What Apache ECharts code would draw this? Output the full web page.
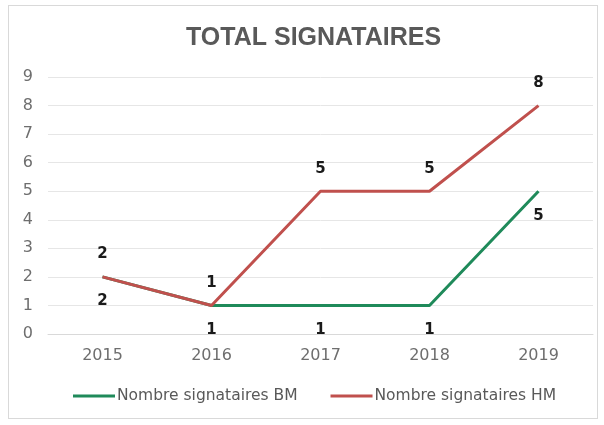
<!DOCTYPE html>
<html><head><meta charset="utf-8">
<script src="https://cdn.jsdelivr.net/npm/echarts@6/dist/echarts.min.js"></script>
<style>
html,body{margin:0;padding:0;background:#fff;}
#frame{position:absolute;left:8px;top:5px;width:590px;height:414px;border:1px solid #d9d9d9;box-sizing:border-box;}
#c{position:absolute;left:0;top:0;width:604px;height:425px;}
</style></head>
<body><div id="frame"></div><div id="c"></div>
<script>
const titleText = 'TOTAL SIGNATAIRES';
const categories = ['2015','2016','2017','2018','2019'];
const bmName = 'Nombre signataires BM';
const hmName = 'Nombre signataires HM';
const bmValues = [2,1,1,1,5];
const hmValues = [2,1,5,5,8];
const yTicks = [0,1,2,3,4,5,6,7,8,9];

const titleFont = '"Liberation Sans", Arial, sans-serif';
const font = '"DejaVu Sans", sans-serif';
const chart = echarts.init(document.getElementById('c'));
const labelBase = {show:true, color:'#1a1a1a', fontWeight:'bold', fontSize:15, fontFamily:font};
chart.setOption({
  animation:false,
  title:{text:titleText,left:181,top:21,textStyle:{fontFamily:titleFont,fontWeight:'bold',fontSize:25,color:'#595959'}},
  grid:{left:48,right:11,top:77,bottom:91},
  legend:{top:383,left:68,itemWidth:42,itemHeight:3,itemGap:33,
    icon:'rect',
    textStyle:{fontFamily:font,fontSize:15.5,color:'#595959',padding:[0,0,0,-3]},
    data:[bmName,hmName]},
  xAxis:{type:'category',data:categories,boundaryGap:true,
    axisLine:{lineStyle:{color:'#d9d9d9'}},axisTick:{show:false},
    axisLabel:{fontFamily:font,fontSize:16,color:'#6e6e6e',margin:14}},
  yAxis:{type:'value',min:yTicks[0],max:yTicks[yTicks.length-1],interval:1,
    axisLine:{show:false},axisTick:{show:false},
    splitLine:{lineStyle:{color:'#e6e6e6'}},
    axisLabel:{fontFamily:font,fontSize:16,color:'#6e6e6e',margin:15}},
  series:[
    {name:bmName,type:'line',data:bmValues,symbol:'circle',symbolSize:0.1,showSymbol:true,
      lineStyle:{color:'#1f8a5a',width:3},itemStyle:{color:'#1f8a5a'},
      label:Object.assign({},labelBase,{position:'bottom',distance:17}),
      z:2},
    {name:hmName,type:'line',data:hmValues,symbol:'circle',symbolSize:0.1,showSymbol:true,
      lineStyle:{color:'#c0504d',width:3},itemStyle:{color:'#c0504d'},
      label:Object.assign({},labelBase,{position:'top',distance:15}),
      z:3}
  ]
});
</script></body></html>
